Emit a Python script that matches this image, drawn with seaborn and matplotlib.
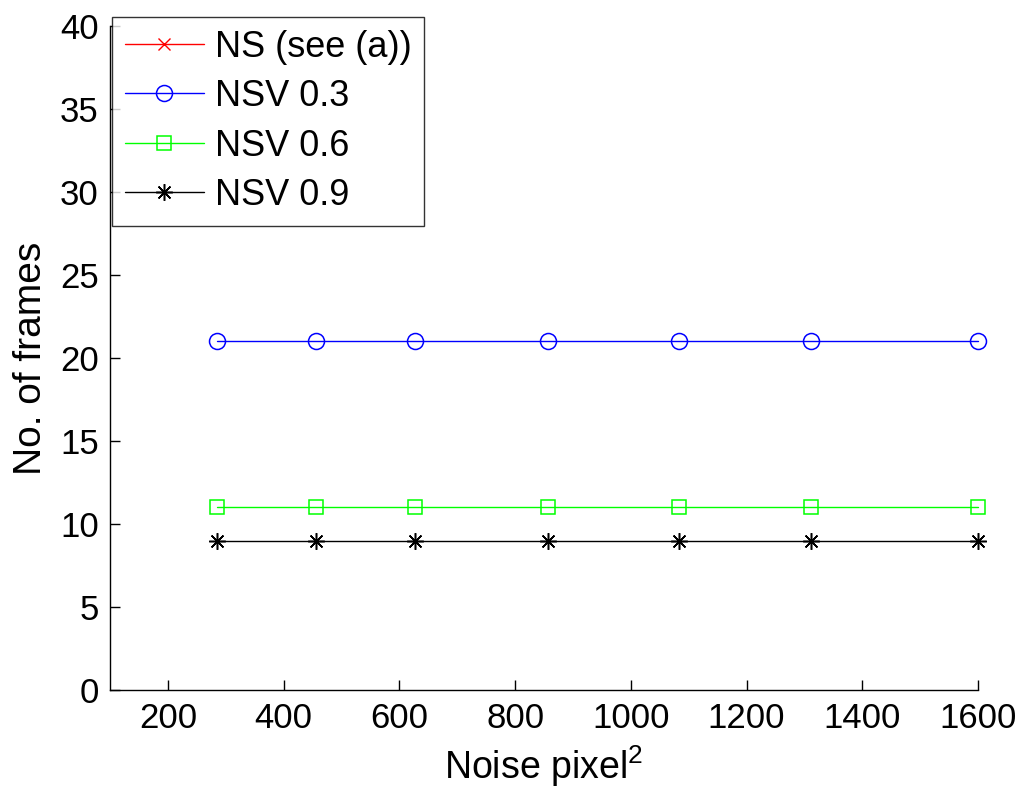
import numpy as np
import pandas as pd
import matplotlib
matplotlib.use("Agg")
import matplotlib.pyplot as plt
import seaborn as sns

noise = [285, 456, 627, 857, 1083, 1311, 1600]
ns_vals = [np.nan] * 7          # NS shown in panel (a), not in this range
nsv03 = [21, 21, 21, 21, 21, 21, 21]
nsv06 = [11, 11, 11, 11, 11, 11, 11]
nsv09 = [9, 9, 9, 9, 9, 9, 9]
labels = ["NS (see (a))", "NSV 0.3", "NSV 0.6", "NSV 0.9"]
xticks = [200, 400, 600, 800, 1000, 1200, 1400, 1600]
yticks = [0, 5, 10, 15, 20, 25, 30, 35, 40]

sns.set_style("white")
plt.rcParams['font.family'] = ['Liberation Sans', 'DejaVu Sans']
plt.rcParams['mathtext.default'] = 'regular'

fig = plt.figure(figsize=(10.28, 8.02), dpi=100)
ax = fig.add_axes([110/1028, 1-690/802, 868/1028, 664/802])

series = [ns_vals, nsv03, nsv06, nsv09]
colors = ["#ff0000", "#0000ff", "#00ff00", "#000000"]
markers = ["x", "o", "s", (8, 2, 0)]
msizes = [9, 11.5, 9.5, 12]

for vals, lab, col, mk, ms in zip(series, labels, colors, markers, msizes):
    if np.all(np.isnan(vals)):
        ax.plot(noise, vals, color=col, marker=mk, markersize=ms, lw=1.0,
                markerfacecolor='none', markeredgecolor=col, label=lab)
    else:
        sns.lineplot(x=noise, y=vals, ax=ax, color=col, marker=mk, markersize=ms,
                     linewidth=1.0, markerfacecolor='none', markeredgecolor=col,
                     markeredgewidth=1.1, label=lab, legend=False, clip_on=False)

ax.set_xlim(100, 1600)
ax.set_ylim(0, 40)
ax.set_xticks(xticks)
ax.set_yticks(yticks)
ax.tick_params(direction='in', length=7, width=1, labelsize=25, color='black',
               labelcolor='black', bottom=True, left=True, pad=9)
ax.tick_params(axis='y', pad=8)
for s in ['top', 'right']:
    ax.spines[s].set_visible(False)
for s in ['left', 'bottom']:
    ax.spines[s].set_color('black')
    ax.spines[s].set_linewidth(1.0)

ax.set_xlabel("Noise pixel$^2$", fontsize=27, labelpad=6, color='black')
ax.set_ylabel("No. of frames", fontsize=28, labelpad=8, color='black')

leg = ax.legend(loc='upper left', bbox_to_anchor=(112/1028, 1-17/802),
                bbox_transform=fig.transFigure, fontsize=26, frameon=True,
                fancybox=False, borderaxespad=0, handlelength=2.2,
                handletextpad=0.3, labelspacing=0.4, borderpad=0.35)
leg.get_frame().set_edgecolor('black')
leg.get_frame().set_linewidth(1.0)
for t in leg.get_texts():
    t.set_color('black')

fig.savefig("out.png", dpi=100, facecolor='white')
